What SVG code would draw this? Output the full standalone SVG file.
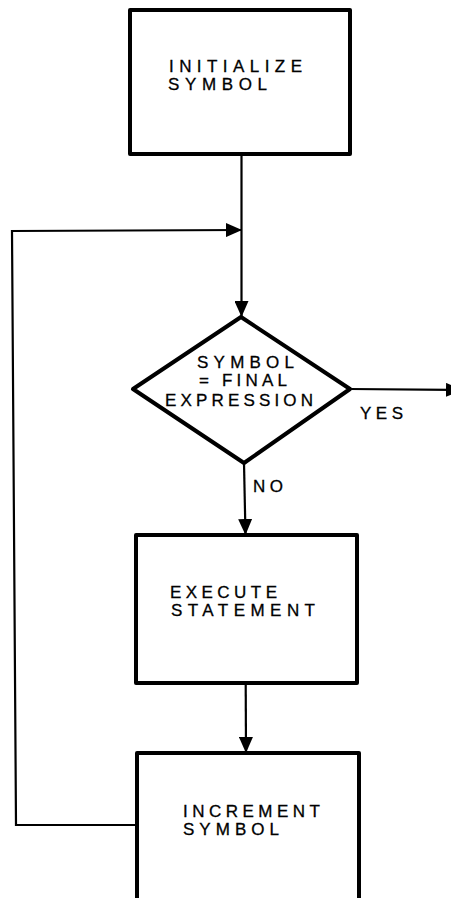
<svg xmlns="http://www.w3.org/2000/svg" width="451" height="898" viewBox="0 0 451 898">
  <style>
    .box { fill: #fff; stroke: #000; stroke-width: 4; stroke-linejoin: round; }
    .wire { fill: none; stroke: #000; stroke-width: 2.2; }
    .lbl { font-family: "Liberation Sans", Arial, sans-serif; font-size: 17px; fill: #000; stroke: #000; stroke-width: 0.3; }
  </style>
  <defs>
    <marker id="head" markerUnits="userSpaceOnUse" markerWidth="16" markerHeight="14" refX="16" refY="7" orient="auto">
      <path d="M0,0 L16,7 L0,14 z" fill="#000"/>
    </marker>
  </defs>

  <rect width="451" height="898" fill="#fff"/>

  <!-- connectors -->
  <g id="connectors">
    <path class="wire" d="M241.5,154 L241.5,317" marker-end="url(#head)"/>
    <path class="wire" d="M137,825 L16,825 L12,231 L242,230" marker-end="url(#head)"/>
    <path class="wire" d="M350,389 L462,390" marker-end="url(#head)"/>
    <path class="wire" d="M244,463 L245.5,535" marker-end="url(#head)"/>
    <path class="wire" d="M245.7,683 L246,753" marker-end="url(#head)"/>
    <text class="lbl" x="360" y="419" font-size="16" textLength="43" lengthAdjust="spacing">YES</text>
    <text class="lbl" x="253" y="492" font-size="16" textLength="30" lengthAdjust="spacing">NO</text>
  </g>

  <!-- initialize -->
  <g id="init">
    <rect class="box" x="130" y="10" width="220" height="144"/>
    <text class="lbl" x="169" y="72" textLength="133" lengthAdjust="spacing">INITIALIZE</text>
    <text class="lbl" x="168" y="90" textLength="99" lengthAdjust="spacing">SYMBOL</text>
  </g>

  <!-- test -->
  <g id="test">
    <path class="box" d="M241,317 L350,389 L244,463 L133,389 z"/>
    <text class="lbl" x="197" y="368" font-size="16" textLength="97" lengthAdjust="spacing">SYMBOL</text>
    <text class="lbl" x="199" y="386" font-size="16" textLength="88" lengthAdjust="spacing">= FINAL</text>
    <text class="lbl" x="165" y="406" font-size="16" textLength="148" lengthAdjust="spacing">EXPRESSION</text>
  </g>

  <!-- execute -->
  <g id="execute">
    <rect class="box" x="136" y="535" width="221" height="148"/>
    <text class="lbl" x="170" y="598" textLength="107" lengthAdjust="spacing">EXECUTE</text>
    <text class="lbl" x="171" y="616" textLength="144" lengthAdjust="spacing">STATEMENT</text>
  </g>

  <!-- increment -->
  <g id="increment">
    <rect class="box" x="137" y="753" width="222" height="160"/>
    <text class="lbl" x="183" y="817" textLength="137" lengthAdjust="spacing">INCREMENT</text>
    <text class="lbl" x="183" y="835" textLength="96" lengthAdjust="spacing">SYMBOL</text>
  </g>
</svg>
